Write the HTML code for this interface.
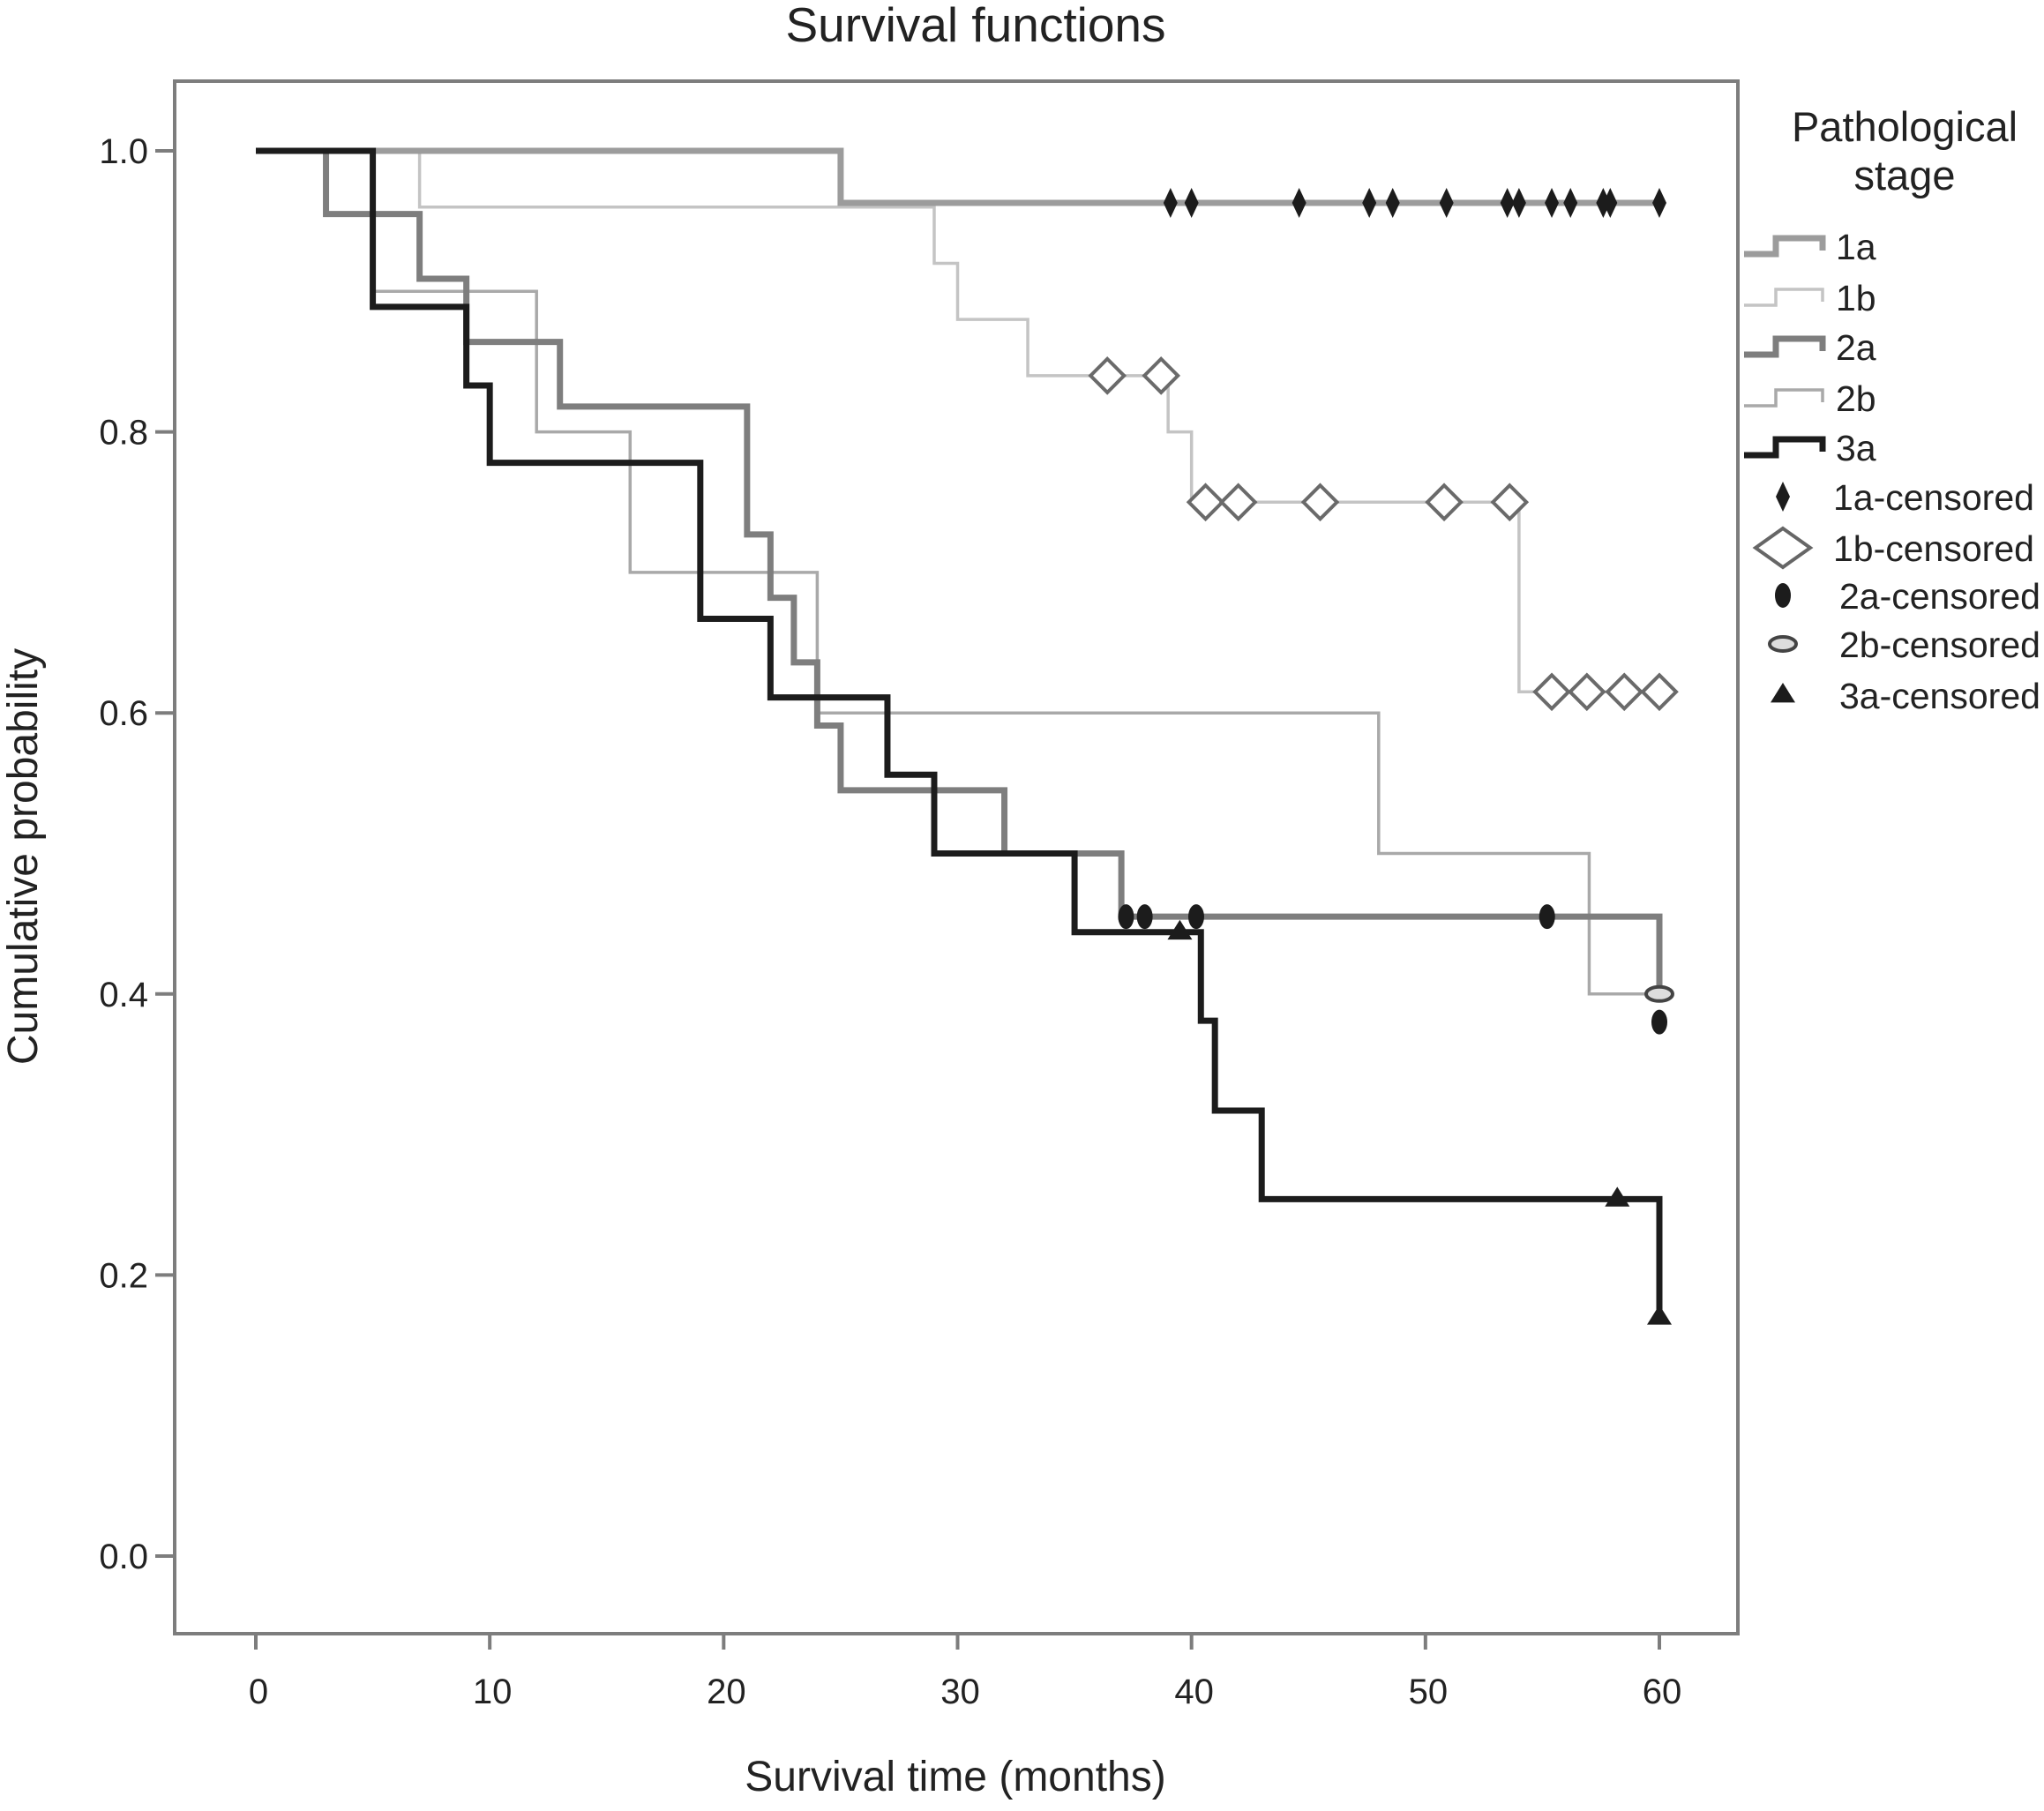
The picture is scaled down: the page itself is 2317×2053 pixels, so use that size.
<!DOCTYPE html>
<html><head><meta charset="utf-8"><style>
html,body{margin:0;padding:0;background:#fff;}
svg{display:block;font-family:"Liberation Sans",Arial,sans-serif;}
</style></head><body>
<svg id="chart" width="2317" height="2053" viewBox="0 0 2317 2053" xmlns="http://www.w3.org/2000/svg">
<rect x="0" y="0" width="2317" height="2053" fill="#fff"/>
<text x="1106" y="47" font-size="55" text-anchor="middle" fill="#222">Survival functions</text>
<rect x="198" y="92" width="1772" height="1760" fill="none" stroke="#7d7d7d" stroke-width="4"/>
<g id="yticks"></g><g id="xticks"></g>
<text transform="translate(42,971) rotate(-90)" font-size="48" text-anchor="middle" fill="#222">Cumulative probability</text>
<text x="1083" y="2030" font-size="48" text-anchor="middle" fill="#222">Survival time (months)</text>
<g id="series"></g>
<g id="censors"></g>
<g id="legend">
<text x="2159" y="160" font-size="47" text-anchor="middle" fill="#222">Pathological</text>
<text x="2159" y="215" font-size="47" text-anchor="middle" fill="#222">stage</text>
</g>
</svg>
<script>
const xTicks=[0,10,20,30,40,50,60];
const yTicks=[0,0.2,0.4,0.6,0.8,1.0];
const t1a=[0,25], s1a=[1,0.963];
const t1b=[0,7,29,30,33,39,40,54], s1b=[1,0.96,0.92,0.88,0.84,0.80,0.75,0.615];
const t2a=[0,3,7,9,13,21,22,23,24,25,32,37,60], s2a=[1,0.955,0.909,0.864,0.818,0.727,0.682,0.636,0.591,0.545,0.5,0.455,0.40];
const t2b=[0,5,12,16,24,48,57], s2b=[1,0.9,0.8,0.7,0.6,0.5,0.4];
const t3a=[0,5,9,10,19,22,27,29,35,40.4,41,43,60], s3a=[1,0.889,0.833,0.778,0.667,0.611,0.556,0.5,0.444,0.381,0.317,0.254,0.17];
const c1aT=[39.1,40,44.6,47.6,48.6,50.9,53.5,54,55.4,56.2,57.6,57.9,60], c1aS=0.963;
const c1bT=[36.4,38.7,40.6,42,45.5,50.8,53.6,55.4,56.9,58.5,60], c1bS=[0.84,0.84,0.75,0.75,0.75,0.75,0.75,0.615,0.615,0.615,0.615];
const c2aT=[37.2,38,40.2,55.2,60], c2aS=[0.455,0.455,0.455,0.455,0.38];
const c2bT=[60], c2bS=[0.4];
const c3aT=[39.5,58.2,60], c3aS=[0.444,0.254,0.17];
const NS="http://www.w3.org/2000/svg";
const X=m=>290+m*(1881-290)/60;
const Y=p=>171+(1-p)*(1764-171);
function mk(tag,attrs,parent){const e=document.createElementNS(NS,tag);for(const k in attrs)e.setAttribute(k,attrs[k]);parent.appendChild(e);return e;}
const yt=document.getElementById('yticks'), xt=document.getElementById('xticks');
yTicks.forEach(v=>{const l=mk('line',{x1:176,x2:198,y1:Y(v),y2:Y(v),stroke:'#7d7d7d','stroke-width':4},yt);


const t=mk('text',{x:168,y:Y(v)+14,'font-size':40,'text-anchor':'end',fill:'#222'},yt);t.textContent=v.toFixed(1);

});
xTicks.forEach(v=>{const l=mk('line',{x1:X(v),x2:X(v),y1:1852,y2:1870,stroke:'#7d7d7d','stroke-width':4},xt);


const t=mk('text',{x:X(v)+3,y:1931,'font-size':40,'text-anchor':'middle',fill:'#222'},xt);t.textContent=v;

});
function stepPath(t,s,end){let d='M'+X(t[0])+' '+Y(s[0]);for(let i=1;i<t.length;i++){d+=' H'+X(t[i])+' V'+Y(s[i]);}if(t[t.length-1]<end)d+=' H'+X(end);return d;}
const ser=document.getElementById('series');
const specs=[['1b',t1b,s1b,'#c4c4c4',3.5],['2b',t2b,s2b,'#a9a9a9',3.5],['1a',t1a,s1a,'#9c9c9c',7],['2a',t2a,s2a,'#7e7e7e',7],['3a',t3a,s3a,'#1c1c1c',7]];
specs.forEach(sp=>{const p=mk('path',{d:stepPath(sp[1],sp[2],60),fill:'none',stroke:sp[3],'stroke-width':sp[4],'stroke-linejoin':'miter'},ser);

});
const cg=document.getElementById('censors');
function d1a(x,y,g){return mk('path',{d:`M${x} ${y-17} L${x+8} ${y} L${x} ${y+17} L${x-8} ${y} Z`,fill:'#1c1c1c'},g);}
function d1b(x,y,g){return mk('path',{d:`M${x} ${y-19} L${x+19} ${y} L${x} ${y+19} L${x-19} ${y} Z`,fill:'#fff',stroke:'#6a6a6a','stroke-width':4},g);}
function e2a(x,y,g){return mk('ellipse',{cx:x,cy:y,rx:9,ry:14,fill:'#1c1c1c'},g);}
function e2b(x,y,g){return mk('ellipse',{cx:x,cy:y,rx:15,ry:8,fill:'#ddd',stroke:'#444','stroke-width':4},g);}
function tri(x,y,g,s){s=s||14;return mk('path',{d:`M${x} ${y-s} L${x+s} ${y+s*0.6} L${x-s} ${y+s*0.6} Z`,fill:'#1c1c1c'},g);}
c1aT.forEach(t=>{const e=d1a(X(t),Y(c1aS),cg);
});
c1bT.forEach((t,i)=>{const e=d1b(X(t),Y(c1bS[i]),cg);
});
c2bT.forEach((t,i)=>{const e=e2b(X(t),Y(c2bS[i]),cg);
});
c2aT.forEach((t,i)=>{const e=e2a(X(t),Y(c2aS[i]),cg);
});
c3aT.forEach((t,i)=>{const e=tri(X(t),Y(c3aS[i]),cg,14);
});
const lg=document.getElementById('legend');
const lineItems=[['1a','#9c9c9c',7,279],['1b','#c4c4c4',3.5,337],['2a','#7e7e7e',7,393],['2b','#a9a9a9',3.5,451],['3a','#1c1c1c',7,507]];
lineItems.forEach(it=>{const y=it[3];const p=mk('path',{d:`M1977 ${y+9} H2013 V${y-9} H2066 V${y+5}`,fill:'none',stroke:it[1],'stroke-width':it[2]},lg);


const t=mk('text',{x:2081,y:y+15,'font-size':41,fill:'#222'},lg);t.textContent=it[0];

});
const symItems=[['1a-censored',563,d1a,2078],['1b-censored',621,d1b,2078],['2a-censored',675,e2a,2085],['2b-censored',730,e2b,2085],['3a-censored',788,tri,2085]];
symItems.forEach(it=>{const s=(it[0]==='1b-censored')?mk('path',{d:`M2021 ${it[1]-22} L2052 ${it[1]} L2021 ${it[1]+22} L1990 ${it[1]} Z`,fill:'#fff',stroke:'#666','stroke-width':4},lg):it[2](2021,it[1],lg);


const t=mk('text',{x:it[3],y:it[1]+15,'font-size':41,fill:'#222'},lg);t.textContent=it[0];

});
</script>
</body></html>
